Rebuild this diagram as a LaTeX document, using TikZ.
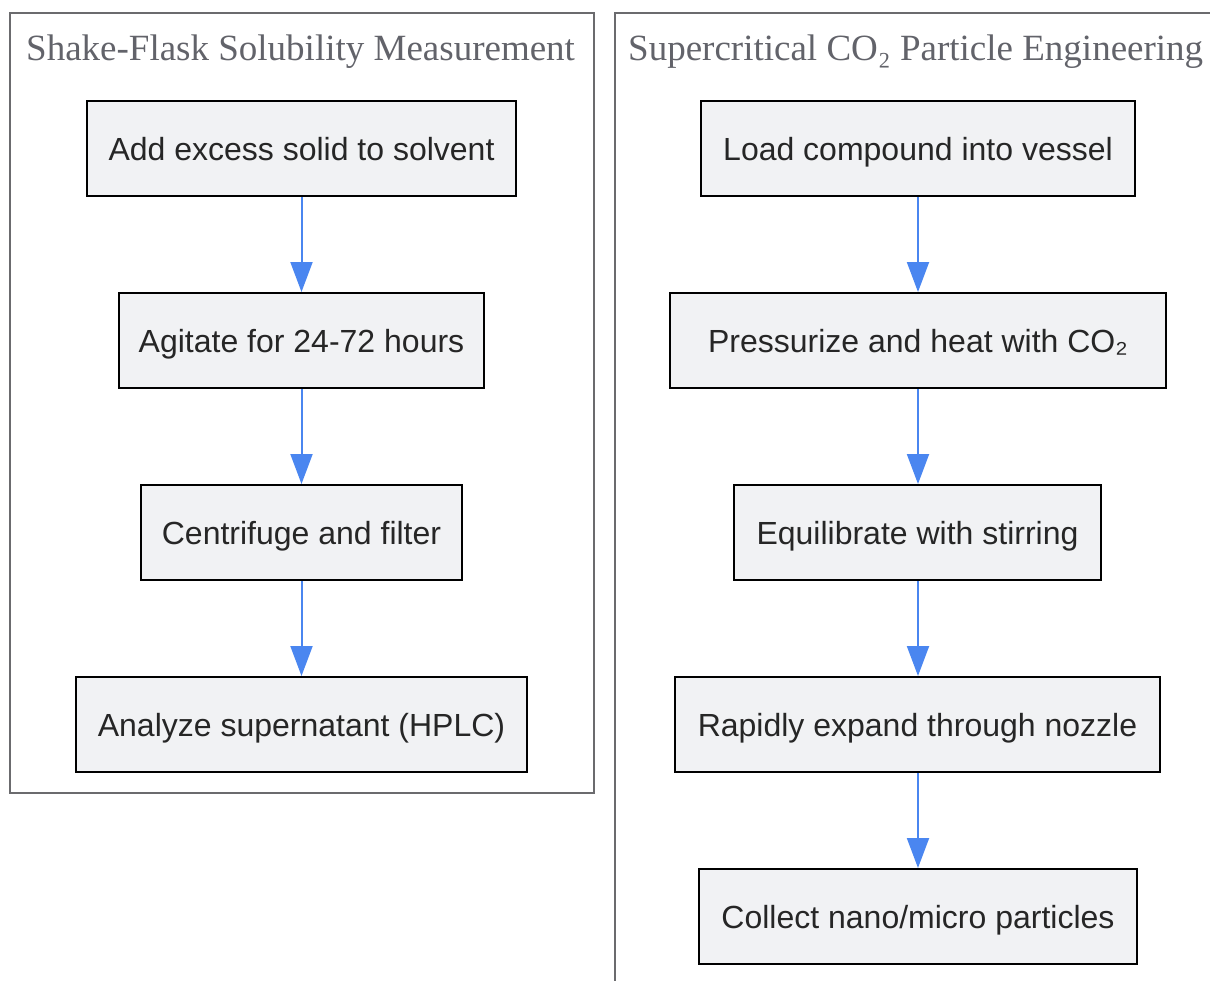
\documentclass[tikz,border=0pt]{standalone}
\usepackage{fontspec}
\setmainfont{Liberation Sans}
\newfontfamily\titlefont{Liberation Serif}
\usetikzlibrary{arrows.meta}
\definecolor{boxfill}{HTML}{F1F2F4}
\definecolor{clusterline}{HTML}{6B6B6E}
\definecolor{titlecol}{HTML}{62636A}
\definecolor{arrowcol}{HTML}{4A86F0}
\tikzset{
  stepbox/.style={draw=black, line width=2pt, fill=boxfill, inner sep=0pt, text height=30pt, text depth=7pt, anchor=north west, font=\fontsize{32}{36}\selectfont, text=black!85},
  cluster/.style={draw=clusterline, line width=2pt},
  ctitle/.style={anchor=base west, inner sep=0pt, text=titlecol, font=\titlefont\fontsize{37}{42}\selectfont},
  flow/.style={draw=arrowcol, line width=2pt, -{Triangle[length=30pt,width=22pt]}, shorten >=0pt}
}
\begin{document}
\begin{tikzpicture}[x=1pt,y=-1pt]
\useasboundingbox (0,0) rectangle (1210,980);
% clusters
\draw[cluster] (10,13) rectangle (594,793);
\draw[cluster] (615,1000) -- (615,13) -- (1230,13);
\node[ctitle] (t1) at (26,60) {Shake-Flask Solubility Measurement};
\node[ctitle] (t2) at (628,60) {Supercritical CO₂ Particle Engineering};
% left column
\node[stepbox, minimum width=429pt, minimum height=95pt] (a1) at (86,100) {Add excess solid to solvent};
\node[stepbox, minimum width=365pt, minimum height=95pt] (a2) at (118,292) {Agitate for 24-72 hours};
\node[stepbox, minimum width=321pt, minimum height=95pt] (a3) at (140,484) {Centrifuge and filter};
\node[stepbox, minimum width=451pt, minimum height=95pt] (a4) at (75,676) {Analyze supernatant (HPLC)};
% right column
\node[stepbox, minimum width=434pt, minimum height=95pt] (b1) at (700,100) {Load compound into vessel};
\node[stepbox, minimum width=496pt, minimum height=95pt] (b2) at (669,292) {Pressurize and heat with CO₂};
\node[stepbox, minimum width=367pt, minimum height=95pt] (b3) at (733,484) {Equilibrate with stirring};
\node[stepbox, minimum width=485pt, minimum height=95pt] (b4) at (674,676) {Rapidly expand through nozzle};
\node[stepbox, minimum width=438pt, minimum height=95pt] (b5) at (698,868) {Collect nano/micro particles};
% arrows
\draw[flow] (a1.south) -- (a1.south |- a2.north);
\draw[flow] (a1.south |- a2.south) -- (a1.south |- a3.north);
\draw[flow] (a1.south |- a3.south) -- (a1.south |- a4.north);
\draw[flow] (b1.south) -- (b1.south |- b2.north);
\draw[flow] (b1.south |- b2.south) -- (b1.south |- b3.north);
\draw[flow] (b1.south |- b3.south) -- (b1.south |- b4.north);
\draw[flow] (b1.south |- b4.south) -- (b1.south |- b5.north);
\end{tikzpicture}
\end{document}
